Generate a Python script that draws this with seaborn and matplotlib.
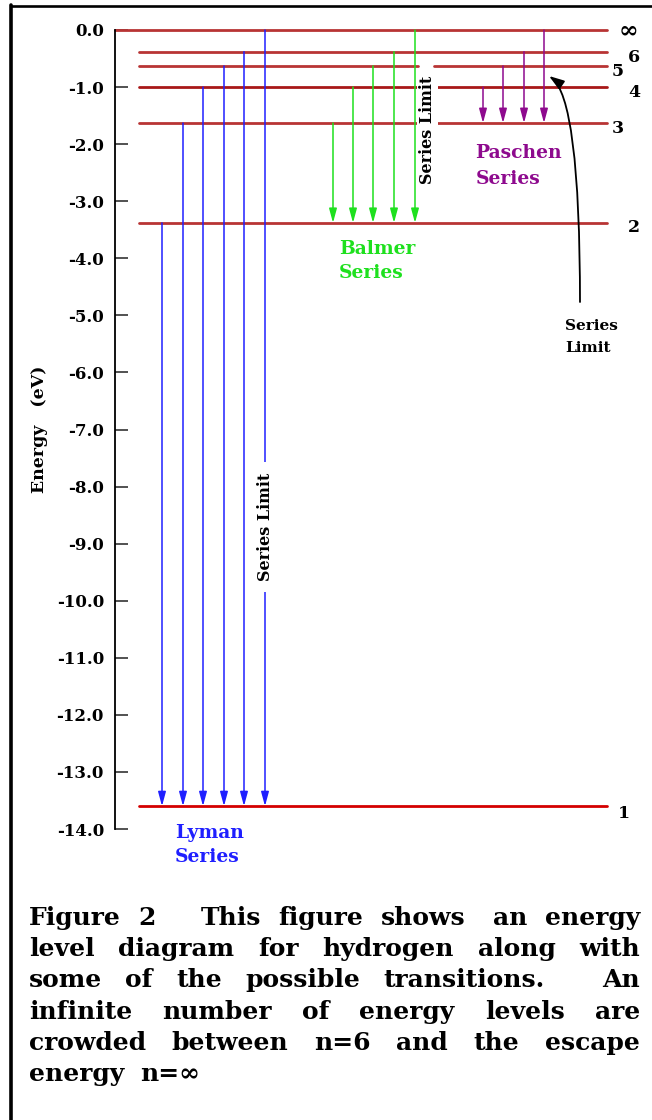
import re
import matplotlib
matplotlib.use("Agg")
import matplotlib.pyplot as plt
import pandas as pd
import seaborn as sns
from matplotlib.patches import FancyArrowPatch
from matplotlib.lines import Line2D

# ---------------- data ----------------
# Hydrogen energy levels as placed on the diagram (eV)
level_n = ["1", "2", "3", "4", "5", "6", "∞"]
level_ev = [-13.6, -3.38, -1.63, -1.0, -0.63, -0.38, 0.0]

# upper levels of each series' transitions (lower level: 1, 2, 3)
lyman_from = ["2", "3", "4", "5", "6", "∞"]
balmer_from = ["3", "4", "5", "6", "∞"]
paschen_from = ["4", "5", "6", "∞"]

energy_ticks = [-14, -13, -12, -11, -10, -9, -8, -7, -6, -5, -4, -3, -2, -1, 0]

# runs of spaces give the relative width of each justified gap
caption_lines = [
    "Figure  2     This  figure  shows   an  energy",
    "level  diagram  for  hydrogen  along  with",
    "some  of  the  possible  transitions.     An",
    "infinite  number  of  energy  levels  are",
    "crowded  between  n=6  and  the  escape",
    "energy  n=∞",
]

# ---------------- layout / style ----------------
W, H = 652, 1120
AX_LEFT, AX_TOP, AX_BOTTOM = 115, 30, 829
lyman_x = [162, 183, 203, 224, 244, 265]
balmer_x = [333, 353, 373, 394, 415]
paschen_x = [483, 503, 524, 544]
label_x = {"∞": 628, "6": 634, "5": 618, "4": 634, "3": 618, "2": 634, "1": 624}
label_base = {"6": 62, "5": 76, "4": 97, "3": 133, "2": 232, "1": 818, "∞": 38}

RED = "#b83434"
BLUE = "#1f1fff"
GREEN = "#1ee01e"
PURPLE = "#8e0a8e"
SERIF = ["DejaVu Serif"]

sns.set_theme(style="white")
plt.rcParams["font.family"] = SERIF

fig = plt.figure(figsize=(W / 100, H / 100), dpi=100)
ax = fig.add_axes([AX_LEFT / W, (H - AX_BOTTOM) / H,
                   (W - AX_LEFT) / W, (AX_BOTTOM - AX_TOP) / H])
ax.set_xlim(AX_LEFT, W)
ax.set_ylim(-14, 0)


def ev(py):
    """vertical pixel position -> energy coordinate"""
    return -(py - AX_TOP) * 14.0 / (AX_BOTTOM - AX_TOP)


energy = dict(zip(level_n, level_ev))

# ---- energy level lines ----
rows = []
for n, e in zip(level_n, level_ev):
    start = AX_LEFT if n == "∞" else 139
    pieces = [(start, 418), (434, 607)] if n == "5" else [(start, 607)]
    for k, (a, b) in enumerate(pieces):
        rows.append(dict(n=n, seg=f"{n}-{k}", x=a, energy=e))
        rows.append(dict(n=n, seg=f"{n}-{k}", x=b, energy=e))
levels = pd.DataFrame(rows)
palette = {n: RED for n in level_n}
palette["1"] = "#d40000"
palette["4"] = "#a81818"
sns.lineplot(data=levels, x="x", y="energy", hue="n", units="seg",
             estimator=None, sort=False, palette=palette, lw=2.0,
             legend=False, ax=ax)
for ln in ax.lines:
    ln.set_clip_on(False)
    ln.set_zorder(2)

for n in level_n:
    ax.text(label_x[n], ev(label_base[n]), n, ha="center", va="baseline",
            fontsize=17 if n == "∞" else 12.5, fontweight="bold",
            color="black", clip_on=False)


# ---- transitions ----
def transition(x, upper, lower, color):
    ax.add_patch(FancyArrowPatch(
        (x, energy[upper]), (x, energy[lower]),
        arrowstyle="-|>,head_length=8.5,head_width=2.3", mutation_scale=1,
        lw=1.1, color=color, shrinkA=0, shrinkB=0, clip_on=False, zorder=3))


for x, up in zip(lyman_x, lyman_from):
    transition(x, up, "1", BLUE)
for x, up in zip(balmer_x, balmer_from):
    transition(x, up, "2", GREEN)
for x, up in zip(paschen_x, paschen_from):
    transition(x, up, "3", PURPLE)

# series limit notes
ax.text(266, ev(527), "Series Limit", rotation=90, ha="center", va="center",
        fontsize=11.5, fontweight="bold", color="black", zorder=5,
        bbox=dict(boxstyle="square,pad=0.7", fc="white", ec="none"))
ax.text(427.5, ev(129.5), "Series Limit", rotation=90, ha="center", va="center",
        fontsize=11.5, fontweight="bold", color="black", zorder=5,
        bbox=dict(boxstyle="square,pad=0.15", fc="white", ec="none"))

ax.add_patch(FancyArrowPatch(
    (580, ev(302)), (549, ev(76)),
    connectionstyle="angle3,angleA=90,angleB=-35",
    arrowstyle="-|>,head_length=9,head_width=3", mutation_scale=1,
    lw=1.3, color="black", shrinkA=0, shrinkB=0, clip_on=False, zorder=6))
ax.text(565, ev(330), "Series", ha="left", va="baseline", fontsize=11,
        fontweight="bold", color="black")
ax.text(565, ev(352), "Limit", ha="left", va="baseline", fontsize=11,
        fontweight="bold", color="black")

# series names
for (x, bases, color, words) in [
        (175, (838, 861.5), BLUE, ("Lyman", "Series")),
        (339, (253.5, 278), GREEN, ("Balmer", "Series")),
        (475.5, (158, 184), PURPLE, ("Paschen", "Series"))]:
    for b, w in zip(bases, words):
        ax.text(x, ev(b), w, ha="left", va="baseline", fontsize=13.5,
                fontweight="bold", color=color, clip_on=False)

# ---- axis styling ----
sns.despine(ax=ax, top=True, right=True, bottom=True)
ax.spines["left"].set_color("black")
ax.spines["left"].set_linewidth(1.3)
ax.set_xticks([])
ax.set_xlabel("")
ax.set_yticks(energy_ticks)
ax.set_yticklabels([f"{v:.1f}" for v in energy_ticks], fontweight="bold")
ax.tick_params(axis="y", direction="in", length=9.5, width=1.1, pad=8,
               labelsize=12, color="#222222", labelcolor="black", left=True)
ax.set_ylabel("Energy   (eV)", fontsize=12.5, fontweight="bold", color="black")
ax.yaxis.set_label_coords((48 - AX_LEFT) / (W - AX_LEFT), 0.5)

# ---- frame lines ----
fig.add_artist(Line2D([11 / W, 11 / W], [0, 1 - 5 / H], color="black", lw=2.6))
fig.add_artist(Line2D([11 / W, 1], [1 - 6 / H, 1 - 6 / H], color="black", lw=1.9))

# ---- justified caption ----
CAP_L, CAP_R = 29, 640
cap_style = dict(fontsize=18, fontweight="bold", family=SERIF,
                 color="black", ha="left", va="baseline")
fig.canvas.draw()
renderer = fig.canvas.get_renderer()

for i, line in enumerate(caption_lines):
    y = 1 - (925 + 31.2 * i) / H
    parts = re.split(r"( +)", line)
    words, gaps = parts[0::2], [len(s) for s in parts[1::2]]
    texts = [fig.text(0, y, w, **cap_style) for w in words]
    widths = [t.get_window_extent(renderer).width for t in texts]
    if i == len(caption_lines) - 1:
        unit = 8.0
    else:
        unit = (CAP_R - CAP_L - sum(widths)) / sum(gaps)
    x = CAP_L
    for t, wd, g in zip(texts, widths, gaps + [0]):
        t.set_x(x / W)
        x += wd + g * unit

fig.savefig("out.png", dpi=100, facecolor="white")
